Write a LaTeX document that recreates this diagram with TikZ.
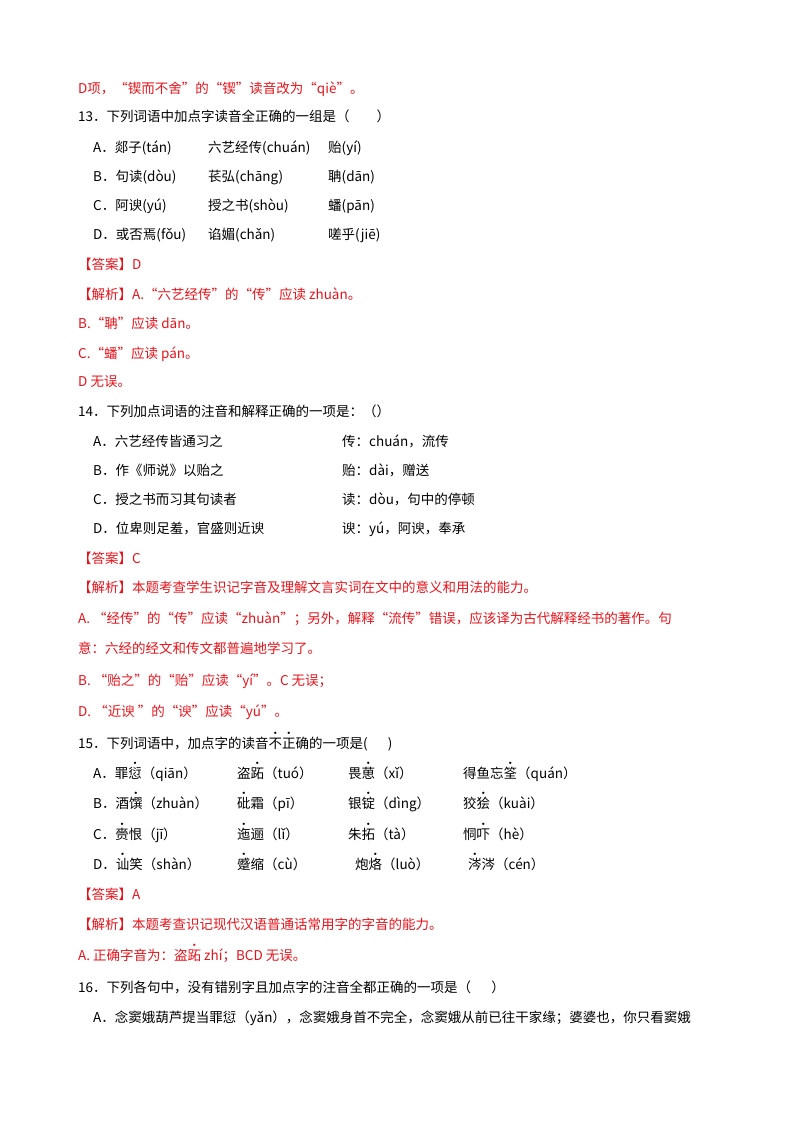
\documentclass[tikz,border=0pt]{standalone}
\usepackage{fontspec}
\setmainfont{Noto Sans CJK SC}
\definecolor{ans}{HTML}{E8141B}
\newcommand{\dt}[1]{\makebox[0pt][l]{\makebox[1em][c]{\smash{\raisebox{0.8em}{\fontsize{11}{11}\selectfont ·}}}}#1}
\begin{document}
\begin{tikzpicture}[x=1pt,y=-1pt,
  t/.style={anchor=base west,inner sep=0pt,font=\fontsize{13.5}{16}\selectfont},
  r/.style={t,text=ans}]
\useasboundingbox (0,0) rectangle (800,1132);
\fill[white] (0,0) rectangle (800,1132);
\node[r] (l1) at (78,93) {D项，“锲而不舍”的“锲”读音改为“qiè”。};
\node[t] (q13) at (78,121) {13．下列词语中加点字读音全正确的一组是（\hspace{2em}）};
\node[t] (a1) at (93,152) {A．郯子(tán)};
\node[t] (a2) at (208,152) {六艺经传(chuán)};
\node[t] (a3) at (328,152) {贻(yí)};
\node[t] (b1) at (93,181) {B．句读(dòu)};
\node[t] (b2) at (208,181) {苌弘(chāng)};
\node[t] (b3) at (328,181) {聃(dān)};
\node[t] (c1) at (93,210) {C．阿谀(yú)};
\node[t] (c2) at (208,210) {授之书(shòu)};
\node[t] (c3) at (328,210) {蟠(pān)};
\node[t] (d1) at (93,239) {D．或否焉(fǒu)};
\node[t] (d2) at (208,239) {谄媚(chǎn)};
\node[t] (d3) at (328,239) {嗟乎(jiē)};
\node[r] (k13) at (78,269) {【答案】D};
\node[r] (j13) at (78,299) {【解析】A.“六艺经传”的“传”应读 zhuàn。};
\node[r] (j13b) at (78,328) {B.“聃”应读 dān。};
\node[r] (j13c) at (78,358) {C.“蟠”应读 pán。};
\node[r] (j13d) at (78,386) {D 无误。};
\node[t] (q14) at (78,416) {14．下列加点词语的注音和解释正确的一项是：（）};
\node[t] (e1) at (93,446) {A．六艺经传皆通习之};
\node[t] (e2) at (342,446) {传：chuán，流传};
\node[t] (f1) at (93,475) {B．作《师说》以贻之};
\node[t] (f2) at (342,475) {贻：dài，赠送};
\node[t] (g1) at (93,504) {C．授之书而习其句读者};
\node[t] (g2) at (342,504) {读：dòu，句中的停顿};
\node[t] (h1) at (93,533) {D．位卑则足羞，官盛则近谀};
\node[t] (h2) at (342,533) {谀：yú，阿谀，奉承};
\node[r] (k14) at (78,563) {【答案】C};
\node[r] (j14) at (78,592) {【解析】本题考查学生识记字音及理解文言实词在文中的意义和用法的能力。};
\node[r] (j14a) at (78,623) {A.\ “经传”的“传”应读“zhuàn”；另外，解释“流传”错误，应该译为古代解释经书的著作。句};
\node[r] (j14b) at (78,653) {意：六经的经文和传文都普遍地学习了。};
\node[r] (j14c) at (78,685) {B.\ “贻之”的“贻”应读“yí”。C 无误；};
\node[r] (j14d) at (78,716) {D.\ “近谀\ ”的“谀”应读“yú”。};
\node[t] (q15) at (78,748) {15．下列词语中，加点字的读音\dt{不}\dt{正}确的一项是(\hspace{1.5em})};
\node[t] (m1) at (93,778) {A．罪\dt{愆}（qiān）};
\node[t] (m2) at (237,778) {盗\dt{跖}（tuó）};
\node[t] (m3) at (348,778) {畏\dt{葸}（xǐ）};
\node[t] (m4) at (463,778) {得鱼忘\dt{筌}（quán）};
\node[t] (n1) at (93,808) {B．酒\dt{馔}（zhuàn）};
\node[t] (n2) at (237,808) {\dt{砒}霜（pī）};
\node[t] (n3) at (348,808) {银\dt{锭}（dìng）};
\node[t] (n4) at (463,808) {狡\dt{狯}（kuài）};
\node[t] (o1) at (93,839) {C．\dt{赍}恨（jī）};
\node[t] (o2) at (237,839) {\dt{迤}逦（lǐ）};
\node[t] (o3) at (348,839) {朱\dt{拓}（tà）};
\node[t] (o4) at (463,839) {恫\dt{吓}（hè）};
\node[t] (p1) at (93,869) {D．\dt{讪}笑（shàn）};
\node[t] (p2) at (237,869) {\dt{蹙}缩（cù）};
\node[t] (p3) at (355,869) {炮\dt{烙}（luò）};
\node[t] (p4) at (468,869) {\dt{涔}涔（cén）};
\node[r] (k15) at (78,899) {【答案】A};
\node[r] (j15) at (78,929) {【解析】本题考查识记现代汉语普通话常用字的字音的能力。};
\node[r] (j15a) at (78,960) {A.\ 正确字音为：盗\dt{跖} zhí；BCD 无误。};
\node[t] (q16) at (78,992) {16．下列各句中，没有错别字且加点字的注音全都正确的一项是（\hspace{1.5em}）};
\node[t] (q16a) at (93,1022) {A．念窦娥葫芦提当罪愆（yǎn），念窦娥身首不完全，念窦娥从前已往干家缘；婆婆也，你只看窦娥};
\end{tikzpicture}
\end{document}
